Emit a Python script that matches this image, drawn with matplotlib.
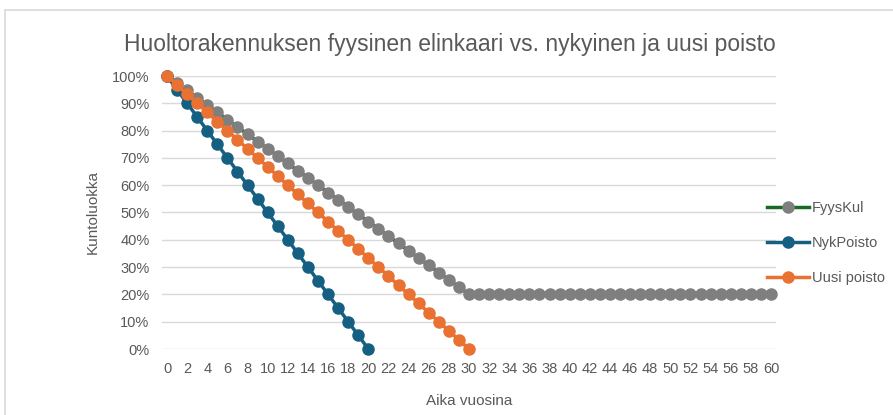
import matplotlib
matplotlib.use('Agg')
import matplotlib.pyplot as plt
from matplotlib.patches import Rectangle
from matplotlib.ticker import PercentFormatter

plt.rcParams['font.family'] = ['Liberation Sans Narrow', 'Liberation Sans', 'DejaVu Sans']

# data (vuodet 0..60)
years = list(range(61))
fyys_kul = [100, 97.3, 94.7, 92, 89.3, 86.7, 84, 81.3, 78.7, 76, 73.3,
            70.7, 68, 65.3, 62.7, 60, 57.3, 54.7, 52, 49.3, 46.7,
            44, 41.3, 38.7, 36, 33.3, 30.7, 28, 25.3, 22.7, 20,
            20, 20, 20, 20, 20, 20, 20, 20, 20, 20,
            20, 20, 20, 20, 20, 20, 20, 20, 20, 20,
            20, 20, 20, 20, 20, 20, 20, 20, 20, 20]
nyk_poisto = [100, 95, 90, 85, 80, 75, 70, 65, 60, 55, 50,
              45, 40, 35, 30, 25, 20, 15, 10, 5, 0]
uusi_poisto = [100, 96.7, 93.3, 90, 86.7, 83.3, 80, 76.7, 73.3, 70, 66.7,
               63.3, 60, 56.7, 53.3, 50, 46.7, 43.3, 40, 36.7, 33.3,
               30, 26.7, 23.3, 20, 16.7, 13.3, 10, 6.7, 3.3, 0]

grey_txt = '#595959'

fig = plt.figure(figsize=(8.93, 4.15), dpi=100)
fig.patches.append(Rectangle((5 / 893, -0.05), 1.0, 1 - 10 / 415 + 0.05,
                             transform=fig.transFigure, fill=False,
                             edgecolor='#d9d9d9', linewidth=1.2))

ax = fig.add_axes([162 / 893, 1 - 349 / 415, 614 / 893, 273 / 415])

ax.plot(years[:len(fyys_kul)], fyys_kul, color='#196b24', linewidth=2.5,
        marker='o', markersize=8, markerfacecolor='#7f7f7f',
        markeredgecolor='#7f7f7f', label='FyysKul', clip_on=False)
ax.plot(years[:len(nyk_poisto)], nyk_poisto, color='#156082', linewidth=2.5,
        marker='o', markersize=8, label='NykPoisto', clip_on=False)
ax.plot(years[:len(uusi_poisto)], uusi_poisto, color='#e97132', linewidth=2.5,
        marker='o', markersize=8, label='Uusi poisto', clip_on=False)

ax.set_xlim(-0.5, 60.5)
ax.set_ylim(0, 100)
ax.set_xticks(range(0, 61, 2))
ax.set_yticks(range(0, 101, 10))
ax.yaxis.set_major_formatter(PercentFormatter(decimals=0))
ax.tick_params(length=0, labelsize=10.5, labelcolor=grey_txt)
ax.tick_params(axis='x', pad=9)
ax.tick_params(axis='y', pad=9)
ax.grid(axis='y', color='#d9d9d9', linewidth=1)
ax.set_axisbelow(True)
for s in ax.spines.values():
    s.set_visible(False)

ax.set_xlabel('Aika vuosina', fontsize=11, color=grey_txt, labelpad=13)
ax.set_ylabel('Kuntoluokka', fontsize=11, color=grey_txt, labelpad=9)
fig.text(450 / 893, 1 - 44 / 415, 'Huoltorakennuksen fyysinen elinkaari vs. nykyinen ja uusi poisto',
         ha='center', va='center', fontsize=16.5, color=grey_txt)

ax.legend(loc='center left', bbox_to_anchor=(767 / 893, 1 - 243 / 415),
          bbox_transform=fig.transFigure, frameon=False, fontsize=10.5,
          labelcolor=grey_txt, handlelength=2.9, handletextpad=0.2,
          labelspacing=1.45, borderaxespad=0, borderpad=0)

fig.savefig('out.png', dpi=100)
